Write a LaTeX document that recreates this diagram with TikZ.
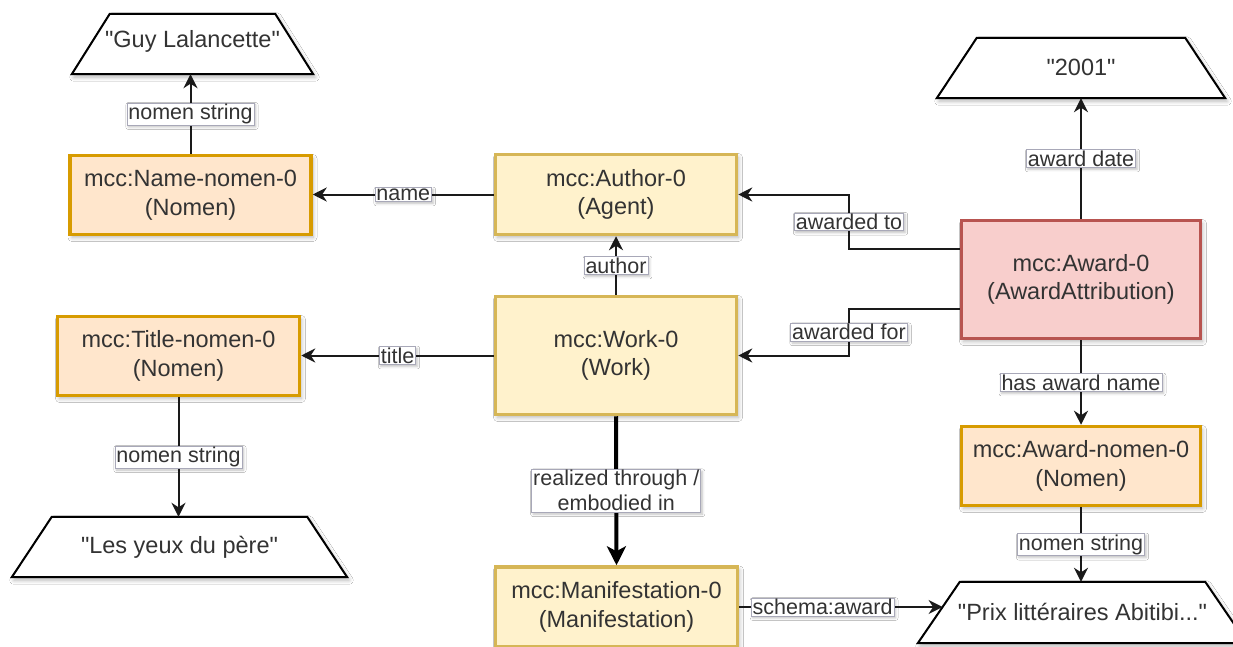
\documentclass[tikz,border=0pt]{standalone}
\usepackage{fontspec}
\setmainfont{Liberation Sans}
\usetikzlibrary{arrows.meta,calc,shadows.blur}

\definecolor{nomenfill}{HTML}{FFE6CC}
\definecolor{nomenline}{HTML}{D79B00}
\definecolor{entfill}{HTML}{FFF2CC}
\definecolor{entline}{HTML}{D6B656}
\definecolor{awfill}{HTML}{F8CECC}
\definecolor{awline}{HTML}{B85450}
\definecolor{txt}{HTML}{333333}
\definecolor{lblline}{HTML}{A8A8B8}
\definecolor{edgecol}{HTML}{1A1A1A}

\newcommand\boxfont{\fontsize{23.5}{28.5}\selectfont}
\newcommand\lblfont{\fontsize{21.5}{25}\selectfont}
\newcommand\qt{\textquotedbl}

\tikzset{
  softshadow/.style={blur shadow={shadow xshift=2pt, shadow yshift=-3pt,
      shadow blur radius=4pt, shadow blur steps=6, shadow opacity=28}},
  entbox/.style={rectangle, line width=3.5pt, align=center, font=\boxfont,
      text=txt, minimum width=241pt, softshadow},
  nomenbox/.style={entbox, fill=nomenfill, draw=nomenline, minimum height=79pt},
  agentbox/.style={entbox, fill=entfill, draw=entline},
  awardbox/.style={entbox, fill=awfill, draw=awline},
  litnode/.style={rectangle, draw=none, font=\boxfont, text=txt,
      minimum height=60pt, inner sep=0pt},
  trapline/.style={draw=black, fill=white, line width=2pt, line join=miter, softshadow},
  edge/.style={draw=edgecol, line width=2pt,
      -{Stealth[length=14pt, width=14pt, inset=4.5pt]}},
  thickedge/.style={draw=black, line width=4pt,
      -{Stealth[length=19pt, width=19pt, inset=5pt]}},
  lbl/.style={rectangle, fill=white, draw=lblline, line width=0.7pt,
      font=\lblfont, text=txt, inner xsep=1.5pt, inner ysep=1pt, align=center,
      blur shadow={shadow xshift=1.5pt, shadow yshift=-2pt,
      shadow blur radius=2.5pt, shadow blur steps=4, shadow opacity=25}},
}

\begin{document}
\begin{tikzpicture}[x=1pt, y=-1pt]
\clip (0,0) rectangle (1233,647);
\fill[white] (0,0) rectangle (1233,647);

% resource boxes
\node[nomenbox] (nm) at (190.5,195) {mcc:Name-nomen-0\\(Nomen)};
\node[agentbox, minimum height=80pt] (au) at (616,194.5) {mcc:Author-0\\(Agent)};
\node[agentbox, minimum height=118pt] (wk) at (616,355.5) {mcc:Work-0\\(Work)};
\node[nomenbox, minimum width=242pt] (tn) at (178.5,356) {mcc:Title-nomen-0\\(Nomen)};
\node[awardbox, minimum width=239pt, minimum height=118pt] (aw) at (1081,279.5) {mcc:Award-0\\(AwardAttribution)};
\node[nomenbox, minimum width=239pt] (an) at (1081,466) {mcc:Award-nomen-0\\(Nomen)};
\node[agentbox, minimum width=242pt, minimum height=80pt] (mf) at (616.5,607) {mcc:Manifestation-0\\(Manifestation)};

% literal values (trapezoids)
\node[litnode, minimum width=241pt] (guy) at (192.5,44) {};
\draw[trapline] ([xshift=38pt]guy.north west) -- ([xshift=-38pt]guy.north east)
  -- (guy.south east) -- (guy.south west) -- cycle;
\node[font=\boxfont, text=txt] at ([yshift=3pt]guy.center) {\qt Guy Lalancette\qt};

\node[litnode, minimum width=335pt] (les) at (179.5,547) {};
\draw[trapline] ([xshift=40pt]les.north west) -- ([xshift=-40pt]les.north east)
  -- (les.south east) -- (les.south west) -- cycle;
\node[font=\boxfont, text=txt] at (les.center) {\qt Les yeux du père\qt};

\node[litnode, minimum width=288pt] (yr) at (1081,68) {};
\draw[trapline] ([xshift=40pt]yr.north west) -- ([xshift=-40pt]yr.north east)
  -- (yr.south east) -- (yr.south west) -- cycle;
\node[font=\boxfont, text=txt] at ([yshift=1pt]yr.center) {\qt 2001\qt};

\node[litnode, minimum width=329pt, minimum height=61pt] (prix) at (1082.5,612.5) {};
\draw[trapline] ([xshift=42pt]prix.north west) -- ([xshift=-42pt]prix.north east)
  -- (prix.south east) -- (prix.south west) -- cycle;
\node[font=\boxfont, text=txt] at ([yshift=1pt]prix.center) {\qt Prix littéraires Abitibi...\qt};
\coordinate (prixin) at ($(prix.south west)!0.59!([xshift=42pt]prix.north west)$);

% relations
\draw[edge] (nm.north) -- (nm.north |- guy.south) node[lbl, midway] {nomen string};
\draw[edge] (au.west) -- (au.west -| nm.east) node[lbl, midway] {name};
\draw[edge] (wk.north) -- (au.south) node[lbl, midway] {author};
\draw[edge] (wk.west) -- (wk.west -| tn.east) node[lbl, midway] {title};
\draw[edge] (tn.south) -- (tn.south |- les.north) node[lbl, midway] {nomen string};
\draw[edge] (aw.north) -- (aw.north |- yr.south) node[lbl, midway] {award date};

\coordinate (toA) at ([yshift=30.5pt]aw.west);
\draw[edge] (toA) -| ($(toA)!.5!(au.east)$) node[lbl] {awarded to} |- (au.east);
\coordinate (forA) at ([yshift=-29.5pt]aw.west);
\draw[edge] (forA) -| ($(forA)!.5!(wk.east)$) node[lbl] {awarded for} |- (wk.east);

\draw[edge] (aw.south) -- (an.north) node[lbl, midway] {has award name};
\draw[edge] (an.south) -- (an.south |- prix.north) node[lbl, midway] {nomen string};
\draw[thickedge] (wk.south) -- (mf.north) node[lbl, midway] {realized through /\\embodied in};
\draw[edge] (mf.east) -- (mf.east -| prixin) node[lbl, pos=0.41] {schema:award};
\end{tikzpicture}
\end{document}
